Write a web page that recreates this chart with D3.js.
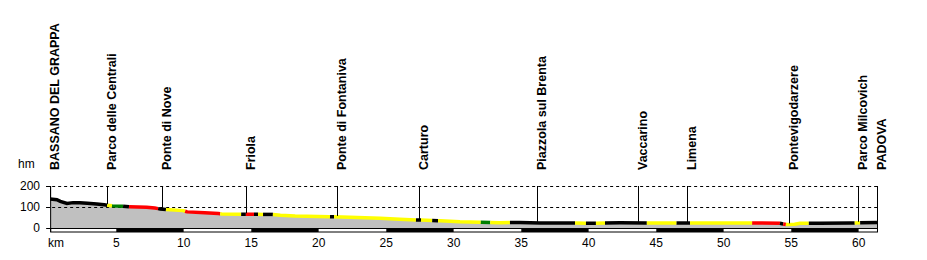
<!DOCTYPE html>
<html>
<head>
<meta charset="utf-8">
<script src="https://cdn.jsdelivr.net/npm/d3@7"></script>
<style>
  body { margin: 0; background: #fff; }
  svg { display: block; font-family: Arial, "Liberation Sans", sans-serif; }
</style>
</head>
<body>
<div class="profile"></div>
<script>
const width = 927;
const height = 260;

// DATA ----------------------------------------

// elevation profile (km, metres)
const kms = [0.1, 0.6, 0.85, 1.35, 1.8, 2.3, 2.85, 3.55, 4.1, 4.7, 5.5, 5.95, 7.25, 7.85, 8.25, 8.7,
	9.95, 10.25, 11.55, 12.55, 12.8, 14.4, 15.8, 16.6, 17.15, 18.25, 20.8, 22.3, 24.55, 26.0,
	27.5, 29.0, 30.45, 31.95, 33.4, 34.15, 34.9, 36.4, 38.6, 40.1, 42.3, 44.5, 48.25, 51.95,
	54.15, 54.6, 55.25, 55.65, 57.1, 59.35, 61.35];
const elevations = [133, 130, 122, 112, 116, 116, 113, 110, 106, 101, 99, 96, 94, 90, 86, 83,
	78, 72, 68, 64, 62, 61, 60, 60, 56, 52, 49, 46, 42, 37,
	33, 30, 25, 23, 20, 21, 22, 19, 19, 18, 20, 19, 19, 19,
	18, 12, 13, 18, 18, 19, 22];

// surface type along the route
const surfaceBreaks = [0.1, 4.33, 4.68, 5.5, 5.94, 8.1, 8.68, 10.1, 12.7, 14.25, 14.6, 15.2, 15.5,
	15.87, 16.6, 20.83, 21.13, 27.2, 27.57, 28.4, 28.83, 32.0, 32.7, 34.16, 38.98, 39.79,
	40.53, 41.2, 44.3, 46.5, 47.5, 52.1, 54.16, 54.4, 54.6, 56.3, 59.7, 60.1, 61.35];
const surfaceColors = ['black', 'yellow', 'green', 'black', 'red', 'black', 'yellow', 'red', 'yellow',
	'black', 'red', 'black', 'yellow', 'black', 'yellow', 'black', 'yellow', 'black', 'yellow',
	'black', 'yellow', 'green', 'yellow', 'black', 'yellow', 'black', 'yellow', 'black', 'yellow',
	'black', 'yellow', 'red', 'black', 'red', 'yellow', 'black', 'yellow', 'black'];

// waypoints
const placeNames = ['BASSANO DEL GRAPPA', 'Parco delle Centrali', 'Ponte di Nove', 'Friola',
	'Ponte di Fontaniva', 'Carturo', 'Piazzola sul Brenta', 'Vaccarino', 'Limena',
	'Pontevigodarzere', 'Parco Milcovich', 'PADOVA'];
const placeKms = [0.1, 4.33, 8.41, 14.59, 21.37, 27.44, 36.14, 43.67, 47.25, 54.85, 59.96, 61.35];

const kmTicks = [5, 10, 15, 20, 25, 30, 35, 40, 45, 50, 55, 60];
const hmTicks = [0, 100, 200];

const colorMap = {black: '#000000', yellow: '#ffff00', green: '#008000', red: '#ff0000'};

// CHART INIT ----------------------------------------

const svg = d3.select('.profile').append('svg')
	.attr('width', width)
	.attr('height', height);

const xScale = d3.scaleLinear()
	.domain([0, 61.35])
	.range([48.8, 877]);

const yScale = d3.scaleLinear()
	.domain([0, 200])
	.range([228, 186]);

const startKm = kms[0];
const endKm = kms[kms.length - 1];
const x0 = xScale(startKm);
const x1 = xScale(endKm);

const profile = kms.map((k, i) => ({km: k, h: elevations[i]}));

function elevAt(km) {
	const i = d3.bisector(d => d.km).right(profile, km);
	if (i <= 0) return profile[0].h;
	if (i >= profile.length) return profile[profile.length - 1].h;
	const a = profile[i - 1], b = profile[i];
	return a.h + (b.h - a.h) * (km - a.km) / (b.km - a.km);
}

// gray area
const area = d3.area()
	.x(d => xScale(d.km))
	.y0(yScale(0))
	.y1(d => yScale(d.h));

svg.append('path')
	.datum(profile)
	.attr('d', area)
	.attr('fill', '#c0c0c0');

// grid lines
svg.selectAll('.grid')
	.data([100, 200])
	.enter()
	.append('line')
	.attr('class', 'grid')
	.attr('x1', x0 - 4)
	.attr('x2', x1)
	.attr('y1', d => Math.round(yScale(d)) + 0.5)
	.attr('y2', d => Math.round(yScale(d)) + 0.5)
	.attr('stroke', '#000')
	.attr('stroke-dasharray', '3,3');

// surface coloured line
const line = d3.line()
	.x(d => xScale(d.km))
	.y(d => yScale(d.h) - 1);

surfaceColors.forEach((c, i) => {
	const a = surfaceBreaks[i], b = surfaceBreaks[i + 1];
	const pts = [{km: a, h: elevAt(a)}]
		.concat(profile.filter(p => p.km > a && p.km < b))
		.concat([{km: b, h: elevAt(b)}]);
	svg.append('path')
		.datum(pts)
		.attr('d', line)
		.attr('fill', 'none')
		.attr('stroke', colorMap[c])
		.attr('stroke-width', 3.5);
});

// waypoint lines and labels
const places = placeNames.map((n, i) => ({name: n, km: placeKms[i]}));

svg.selectAll('.place-line')
	.data(places)
	.enter()
	.append('line')
	.attr('class', 'place-line')
	.attr('x1', d => Math.round(xScale(d.km)) + 0.5)
	.attr('x2', d => Math.round(xScale(d.km)) + 0.5)
	.attr('y1', yScale(200))
	.attr('y2', d => yScale(elevAt(d.km)) - 2)
	.attr('stroke', '#000');

svg.selectAll('.place-label')
	.data(places)
	.enter()
	.append('text')
	.attr('class', 'place-label')
	.attr('transform', d => `translate(${xScale(d.km) + 9},170) rotate(-90)`)
	.attr('font-size', 12.5)
	.attr('font-weight', 'bold')
	.text(d => d.name);

// km bar, alternating every 5 km
const barSteps = d3.range(0, endKm, 5);
svg.selectAll('.kmbar')
	.data(barSteps)
	.enter()
	.append('rect')
	.attr('class', 'kmbar')
	.attr('x', d => xScale(Math.max(d, startKm)))
	.attr('width', d => xScale(Math.min(d + 5, endKm)) - xScale(Math.max(d, startKm)))
	.attr('y', 228)
	.attr('height', 4)
	.attr('fill', (d, i) => i % 2 ? '#000' : '#fff');

svg.append('rect')
	.attr('x', x0 + 0.5)
	.attr('y', 228.5)
	.attr('width', x1 - x0)
	.attr('height', 3.5)
	.attr('fill', 'none')
	.attr('stroke', '#000');

// frame sides
svg.append('line')
	.attr('x1', x0 + 0.5).attr('x2', x0 + 0.5)
	.attr('y1', yScale(200)).attr('y2', 232)
	.attr('stroke', '#000');

svg.append('line')
	.attr('x1', x1 + 0.5).attr('x2', x1 + 0.5)
	.attr('y1', yScale(200)).attr('y2', 232)
	.attr('stroke', '#000');

// y ticks and labels
svg.selectAll('.hm-tick')
	.data(hmTicks)
	.enter()
	.append('line')
	.attr('x1', x0 - 4)
	.attr('x2', x0)
	.attr('y1', d => Math.round(yScale(d)) + 0.5)
	.attr('y2', d => Math.round(yScale(d)) + 0.5)
	.attr('stroke', '#000');

svg.selectAll('.hm-label')
	.data(hmTicks)
	.enter()
	.append('text')
	.attr('x', 40)
	.attr('y', d => yScale(d))
	.attr('dy', '0.35em')
	.attr('text-anchor', 'end')
	.attr('font-size', 12)
	.text(d => d);

svg.append('text')
	.attr('x', 18)
	.attr('y', 168)
	.attr('font-size', 12)
	.text('hm');

// x labels
svg.selectAll('.km-label')
	.data(kmTicks)
	.enter()
	.append('text')
	.attr('x', d => xScale(d))
	.attr('y', 247)
	.attr('text-anchor', 'middle')
	.attr('font-size', 12)
	.text(d => d);

svg.append('text')
	.attr('x', 48)
	.attr('y', 247)
	.attr('font-size', 12)
	.text('km');
</script>
</body>
</html>
